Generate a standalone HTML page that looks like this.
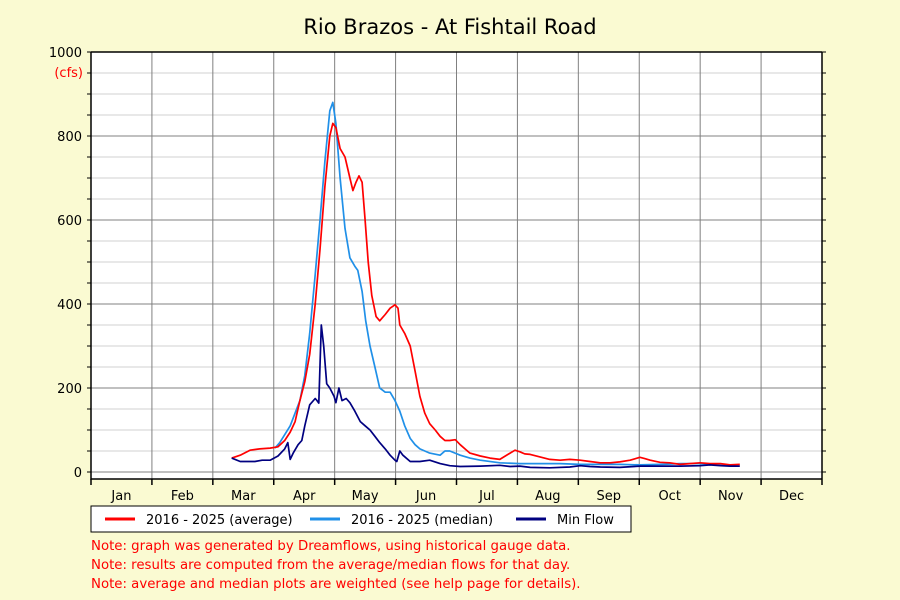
<!DOCTYPE html>
<html><head><meta charset="utf-8"><style>
body{margin:0;background:#fafad2;font-family:"DejaVu Sans","Liberation Sans",sans-serif;}
svg{display:block}
</style></head><body>
<svg id="chart" width="900" height="600" font-family="DejaVu Sans, Liberation Sans, sans-serif">
<rect x="0" y="0" width="900" height="600" fill="#fafad2"/>
<text x="450" y="34" text-anchor="middle" font-size="21" fill="#000">Rio Brazos - At Fishtail Road</text>
<rect x="91" y="52" width="731" height="427" fill="#fff"/>
<g id="grid"></g>
<g id="series"></g>
<g id="axes"></g>
<text x="83" y="77" text-anchor="end" font-size="13" fill="#f00">(cfs)</text>
<g>
<rect x="91" y="506" width="540" height="26" fill="#fff" stroke="#000" stroke-width="1"/>
<line x1="105" y1="519" x2="135" y2="519" stroke="#f00" stroke-width="3"/>
<text x="146" y="524" font-size="13">2016 - 2025 (average)</text>
<line x1="310" y1="519" x2="340" y2="519" stroke="#2090e8" stroke-width="3"/>
<text x="351" y="524" font-size="13">2016 - 2025 (median)</text>
<line x1="516" y1="519" x2="546" y2="519" stroke="#000080" stroke-width="3"/>
<text x="557" y="524" font-size="13">Min Flow</text>
</g>
<g font-size="13.3" fill="#f00">
<text x="91" y="550">Note: graph was generated by Dreamflows, using historical gauge data.</text>
<text x="91" y="569">Note: results are computed from the average/median flows for that day.</text>
<text x="91" y="588">Note: average and median plots are weighted (see help page for details).</text>
</g>
</svg>
<script>
const months=["Jan","Feb","Mar","Apr","May","Jun","Jul","Aug","Sep","Oct","Nov","Dec"];
const yTicks=[0,200,400,600,800,1000];
const avgX=[2.31,2.45,2.61,2.77,2.94,3.07,3.18,3.27,3.35,3.43,3.51,3.59,3.68,3.76,3.84,3.92,3.97,4.02,4.09,4.17,4.25,4.30,4.35,4.40,4.45,4.50,4.55,4.61,4.68,4.74,4.83,4.91,4.99,5.04,5.07,5.15,5.24,5.32,5.40,5.48,5.56,5.65,5.73,5.81,5.89,5.98,6.06,6.14,6.22,6.39,6.55,6.71,6.88,6.96,7.04,7.12,7.21,7.37,7.53,7.70,7.86,8.03,8.19,8.36,8.52,8.68,8.85,9.01,9.09,9.18,9.34,9.50,9.67,9.83,10.0,10.16,10.33,10.49,10.65];
const avgY=[33,40,52,55,57,60,75,95,120,170,215,280,400,530,680,800,830,820,770,750,700,670,690,705,690,600,500,420,370,360,375,390,398,390,350,330,300,240,180,140,115,100,85,75,75,77,65,55,45,38,33,30,45,52,48,43,42,36,30,28,30,28,25,22,22,24,28,35,32,28,23,22,18,20,22,20,20,17,18];
const medX=[3.02,3.10,3.27,3.43,3.51,3.59,3.68,3.76,3.84,3.92,3.97,4.02,4.09,4.17,4.25,4.33,4.38,4.45,4.51,4.58,4.66,4.74,4.83,4.91,4.99,5.07,5.15,5.24,5.32,5.40,5.56,5.73,5.81,5.89,6.06,6.22,6.39,6.71,7.04,7.37,7.70,8.03,8.36,8.68,9.01,9.34,9.67,10.0,10.33,10.49];
const medY=[57,70,110,170,230,330,470,600,740,860,880,830,700,580,510,490,480,430,360,300,250,200,190,190,170,145,110,80,65,55,45,40,50,50,40,33,28,22,20,20,20,18,18,18,17,18,20,20,18,15];
const minX=[2.31,2.45,2.69,2.81,2.94,3.07,3.18,3.23,3.27,3.32,3.40,3.46,3.51,3.59,3.68,3.71,3.74,3.78,3.82,3.87,3.92,3.99,4.02,4.07,4.12,4.19,4.25,4.33,4.42,4.50,4.58,4.66,4.74,4.83,4.91,4.99,5.02,5.07,5.12,5.24,5.40,5.56,5.73,5.89,6.06,6.39,6.71,6.88,7.04,7.21,7.53,7.86,8.03,8.19,8.36,8.68,9.01,9.34,9.67,10.0,10.16,10.33,10.49,10.65];
const minY=[33,25,25,28,28,38,55,70,30,45,65,75,110,160,175,170,164,350,300,210,200,180,165,200,170,175,165,145,120,110,100,85,70,55,40,28,25,50,40,25,25,28,20,15,13,14,16,13,14,11,10,12,15,13,12,11,14,14,14,15,17,15,14,14];

const X0=91,X1=822,Y0=472,PX=0.42,YB=479,YT=52;
const xs=m=>X0+m*(X1-X0)/12;
const ys=v=>Y0-v*PX;
const NS="http://www.w3.org/2000/svg";
function mk(t,a,p){const e=document.createElementNS(NS,t);for(const k in a)e.setAttribute(k,a[k]);p.appendChild(e);return e;}
const grid=document.getElementById('grid'),axes=document.getElementById('axes'),ser=document.getElementById('series');
for(let v=0;v<=1000;v+=50){
  const major=v%200===0;
  const l=mk('line',{x1:X0,x2:X1,y1:ys(v),y2:ys(v),stroke:major?'#808080':'#d0d0d0','stroke-width':1},grid);
  
  
  const t=mk('line',{x1:X0-4,x2:X0,y1:ys(v),y2:ys(v),stroke:'#000'},axes);
  
  
  const t2=mk('line',{x1:X1,x2:X1+4,y1:ys(v),y2:ys(v),stroke:'#000'},axes);
  
  
}
yTicks.forEach(v=>{
  const t=mk('text',{x:X0-9,y:ys(v)+5,'text-anchor':'end','font-size':13},axes);
  t.textContent=v;
  
  
});
for(let i=1;i<12;i++){
  const l=mk('line',{x1:xs(i),x2:xs(i),y1:YT,y2:YB,stroke:'#808080'},grid);
  
  
}
for(let i=0;i<=12;i++){
  const t=mk('line',{x1:xs(i),x2:xs(i),y1:YB,y2:YB+6,stroke:'#000','stroke-width':1.5},axes);
  
  
}
months.forEach((m,i)=>{
  const t=mk('text',{x:xs(i+0.5),y:500,'text-anchor':'middle','font-size':13},axes);
  t.textContent=m;
  
  
});
const frame=mk('path',{d:`M${X0},${YT}H${X1}M${X0},${YT}V${YB}H${X1}M${X1},${YT}V${YB}`,stroke:'#000','stroke-width':1.5,fill:'none'},axes);


function line(xa,ya,color,name){
  const d=xa.map((m,i)=>(i?'L':'M')+xs(m).toFixed(1)+','+ys(ya[i]).toFixed(1)).join('');
  const p=mk('path',{d:d,stroke:color,'stroke-width':1.7,fill:'none','stroke-linejoin':'round'},ser);
  
  
}
line(medX,medY,'#2090e8','median-line');
line(avgX,avgY,'#ff0000','average-line');
line(minX,minY,'#000080','min-flow-line');
</script>
</body></html>
